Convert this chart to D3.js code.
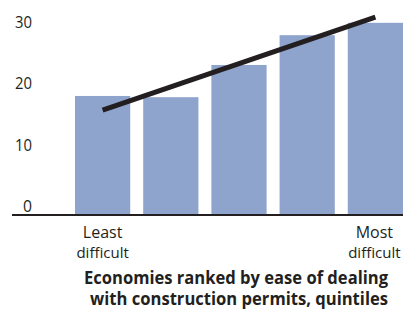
<!DOCTYPE html>
<html>
<head>
<meta charset="utf-8">
<script src="https://cdn.jsdelivr.net/npm/d3@7"></script>
<style>
  body { margin: 0; background: #fff; }
  text { font-family: "Open Sans", sans-serif; fill: #231f20; }
</style>
</head>
<body>
<div id="chart"></div>
<script>
// quintiles, least difficult -> most difficult
var quintiles = ["Q1", "Q2", "Q3", "Q4", "Q5"];
var values = [19.2, 19.0, 24.2, 29.0, 31.0];
var trend = [16.9, 31.9];   // fitted line, first and last quintile
var yTicks = [0, 10, 20, 30];
var endLabels = [["Least", "difficult"], ["Most", "difficult"]];
var title = ["Economies ranked by ease of dealing", "with construction permits, quintiles"];

var W = 403, H = 309;
var svg = d3.select("#chart").append("svg")
    .attr("width", W).attr("height", H);

var x = d3.scaleBand().domain(quintiles).range([75, 403]).paddingInner(0.19);
var y = d3.scaleLinear().domain([0, 30]).range([215, 29]);

// bars
svg.selectAll("rect.bar").data(values).enter().append("rect")
    .attr("class", "bar")
    .attr("x", function (d, i) { return x(quintiles[i]); })
    .attr("y", function (d) { return y(d); })
    .attr("width", x.bandwidth())
    .attr("height", function (d) { return y(0) - y(d); })
    .attr("fill", "#8fa4cd");

// y labels sit just above their value
svg.selectAll("text.ylab").data(yTicks).enter().append("text")
    .attr("class", "ylab")
    .attr("x", 32)
    .attr("y", function (d) { return y(d) - 3 + d / 15; })
    .attr("text-anchor", "end")
    .attr("font-size", 17)
    .attr("textLength", function (d) { return d ? 17 : 9; })
    .attr("lengthAdjust", "spacingAndGlyphs")
    .text(function (d) { return d; });

// baseline
svg.append("line")
    .attr("x1", 12).attr("x2", W)
    .attr("y1", y(0)).attr("y2", y(0))
    .attr("stroke", "#231f20").attr("stroke-width", 2);

// trend line between centres of first and last bar
var cx = function (q) { return x(q) + x.bandwidth() / 2; };
svg.append("line")
    .attr("x1", cx(quintiles[0])).attr("y1", y(trend[0]))
    .attr("x2", cx(quintiles[4])).attr("y2", y(trend[1]))
    .attr("stroke", "#231f20").attr("stroke-width", 5);

// end labels
[0, 4].forEach(function (qi, k) {
  var lx = cx(quintiles[qi]) - (k ? 1 : 0);
  var t = svg.append("text")
      .attr("x", lx)
      .attr("y", 238)
      .attr("text-anchor", "middle")
      .attr("font-size", 16);
  endLabels[k].forEach(function (s, j) {
    t.append("tspan").attr("x", lx).attr("dy", j ? 20 : 0)
      .attr("font-size", j ? 15 : null)
      .text(s);
  });
});

// axis title
var tw = [304, 298];
title.forEach(function (s, j) {
  svg.append("text")
      .attr("x", j ? 239 : 236)
      .attr("y", 284 + j * 20.5)
      .attr("text-anchor", "middle")
      .attr("font-size", 17)
      .attr("font-weight", "bold")
      .attr("textLength", tw[j])
      .attr("lengthAdjust", "spacingAndGlyphs")
      .text(s);
});
</script>
</body>
</html>
